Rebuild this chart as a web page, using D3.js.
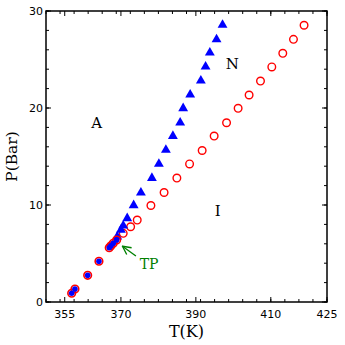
<!DOCTYPE html>
<html>
<head>
<meta charset="utf-8">
<script src="https://cdn.jsdelivr.net/npm/d3@7"></script>
<style>
  body { margin: 0; background: #fff; }
</style>
</head>
<body>
<div class="container"></div>
<script>

// points where both series sit together (below the triple point)
const bothT = [356.85, 357.73, 361.12, 364.13, 366.88, 367.33, 367.95, 368.85];
const bothP = [0.90, 1.34, 2.75, 4.20, 5.60, 5.80, 6.05, 6.39];

// red open circles (liquid side)
const circT = [370.61, 372.59, 374.35, 378.0, 381.52, 384.93, 388.32, 391.68, 394.88,
               398.19, 401.28, 404.21, 407.25, 410.27, 413.2, 416.05, 418.88];
const circP = [7.08, 7.76, 8.45, 9.95, 11.29, 12.78, 14.23, 15.62, 17.11,
               18.48, 19.97, 21.34, 22.78, 24.23, 25.64, 27.08, 28.53];

// blue triangles
const triT = [369.01, 370.0, 370.61, 371.68, 373.39, 375.33, 378.27, 380.13, 382.0,
              383.87, 385.81, 386.61, 388.48, 391.33, 392.59, 393.73, 395.52, 397.12];
const triP = [6.73, 7.42, 7.87, 8.63, 9.97, 11.27, 12.78, 14.23, 15.67,
              17.11, 18.48, 19.97, 21.37, 22.81, 24.26, 25.70, 27.08, 28.56];

const xTicks = [355, 370, 390, 410, 425];
const yTicks = [0, 10, 20, 30];

const width = 345;
const height = 345;
const padL = 46, padR = 327, padT = 11, padB = 302;

const xScale = d3.scaleLinear().domain([350, 425]).range([padL, padR]);
const yScale = d3.scaleLinear().domain([0, 30]).range([padB, padT]);

const svg = d3.select('.container')
  .append('svg')
  .attr('width', width)
  .attr('height', height);

// minor ticks
const xMinor = d3.range(350, 425.01, 3.75);
const yMinor = d3.range(0, 30.01, 2);

const g = svg.append('g');

const tickLine = (x1, y1, x2, y2) => g.append('line')
  .attr('x1', x1).attr('y1', y1).attr('x2', x2).attr('y2', y2)
  .attr('stroke', 'black').attr('stroke-width', 1);

xMinor.forEach(v => {
  tickLine(xScale(v), padB, xScale(v), padB - 3);
  tickLine(xScale(v), padT, xScale(v), padT + 3);
});
xTicks.forEach(v => {
  tickLine(xScale(v), padB, xScale(v), padB - 5);
  tickLine(xScale(v), padT, xScale(v), padT + 5);
});
yMinor.forEach(v => {
  tickLine(padL, yScale(v), padL + 3, yScale(v));
  tickLine(padR, yScale(v), padR - 3, yScale(v));
});
yTicks.forEach(v => {
  tickLine(padL, yScale(v), padL + 5, yScale(v));
  tickLine(padR, yScale(v), padR - 5, yScale(v));
});

// frame
svg.append('rect')
  .attr('x', padL).attr('y', padT)
  .attr('width', padR - padL).attr('height', padB - padT)
  .attr('fill', 'none').attr('stroke', 'black').attr('stroke-width', 1.5);

// tick labels
svg.selectAll('.xlab')
  .data(xTicks)
  .enter()
  .append('text')
  .attr('x', d => xScale(d))
  .attr('y', padB + 16)
  .attr('text-anchor', 'middle')
  .attr('font-family', 'DejaVu Sans')
  .attr('font-size', 11)
  .text(d => d);

svg.selectAll('.ylab')
  .data(yTicks)
  .enter()
  .append('text')
  .attr('x', padL - 3)
  .attr('y', d => yScale(d) + 4)
  .attr('text-anchor', 'end')
  .attr('font-family', 'DejaVu Sans')
  .attr('font-size', 11)
  .text(d => d);

// axis titles
svg.append('text')
  .attr('x', (padL + padR) / 2)
  .attr('y', 337)
  .attr('text-anchor', 'middle')
  .attr('font-family', 'DejaVu Serif')
  .attr('font-size', 16)
  .text('T(K)');

svg.append('text')
  .attr('transform', `translate(17, ${(padT + padB) / 2}) rotate(-90)`)
  .attr('text-anchor', 'middle')
  .attr('font-family', 'DejaVu Serif')
  .attr('font-size', 15.5)
  .text('P(Bar)');

// red circles
svg.selectAll('.circ')
  .data(d3.zip(circT, circP))
  .enter()
  .append('circle')
  .attr('cx', d => xScale(d[0]))
  .attr('cy', d => yScale(d[1]))
  .attr('r', 3.8)
  .attr('fill', 'none')
  .attr('stroke', 'red')
  .attr('stroke-width', 1.4);

// blue triangles
const tri = d3.symbol().type(d3.symbolTriangle).size(42);
svg.selectAll('.tri')
  .data(d3.zip(triT, triP))
  .enter()
  .append('path')
  .attr('d', tri)
  .attr('transform', d => `translate(${xScale(d[0])}, ${yScale(d[1])})`)
  .attr('fill', 'blue');

// shared points: red ring with blue centre
const both = d3.zip(bothT, bothP);
svg.selectAll('.bothc')
  .data(both)
  .enter()
  .append('circle')
  .attr('cx', d => xScale(d[0]))
  .attr('cy', d => yScale(d[1]))
  .attr('r', 3.8)
  .attr('fill', 'none')
  .attr('stroke', 'red')
  .attr('stroke-width', 1.6);
svg.selectAll('.bothb')
  .data(both)
  .enter()
  .append('circle')
  .attr('cx', d => xScale(d[0]))
  .attr('cy', d => yScale(d[1]))
  .attr('r', 2.8)
  .attr('fill', 'blue');

// region labels
const label = (txt, t, p, color, size) => svg.append('text')
  .attr('x', xScale(t)).attr('y', yScale(p))
  .attr('text-anchor', 'middle')
  .attr('font-family', 'DejaVu Serif')
  .attr('font-size', size)
  .attr('fill', color)
  .text(txt);

label('A', 363.5, 17.9, 'black', 15);
label('N', 399.7, 24.0, 'black', 15);
label('I', 395.8, 8.9, 'black', 15);
label('TP', 377.5, 3.45, 'green', 14);

// arrow to triple point
svg.append('defs').append('marker')
  .attr('id', 'arr')
  .attr('viewBox', '0 0 10 10')
  .attr('refX', 9).attr('refY', 5)
  .attr('markerWidth', 8).attr('markerHeight', 8)
  .attr('orient', 'auto')
  .append('path')
  .attr('d', 'M1,1 L9,5 L1,9')
  .attr('fill', 'none')
  .attr('stroke', 'green')
  .attr('stroke-width', 1.3);

svg.append('line')
  .attr('x1', xScale(374.0)).attr('y1', yScale(4.74))
  .attr('x2', xScale(370.4)).attr('y2', yScale(5.75))
  .attr('stroke', 'green')
  .attr('stroke-width', 1.3)
  .attr('marker-end', 'url(#arr)');

</script>
</body>
</html>
